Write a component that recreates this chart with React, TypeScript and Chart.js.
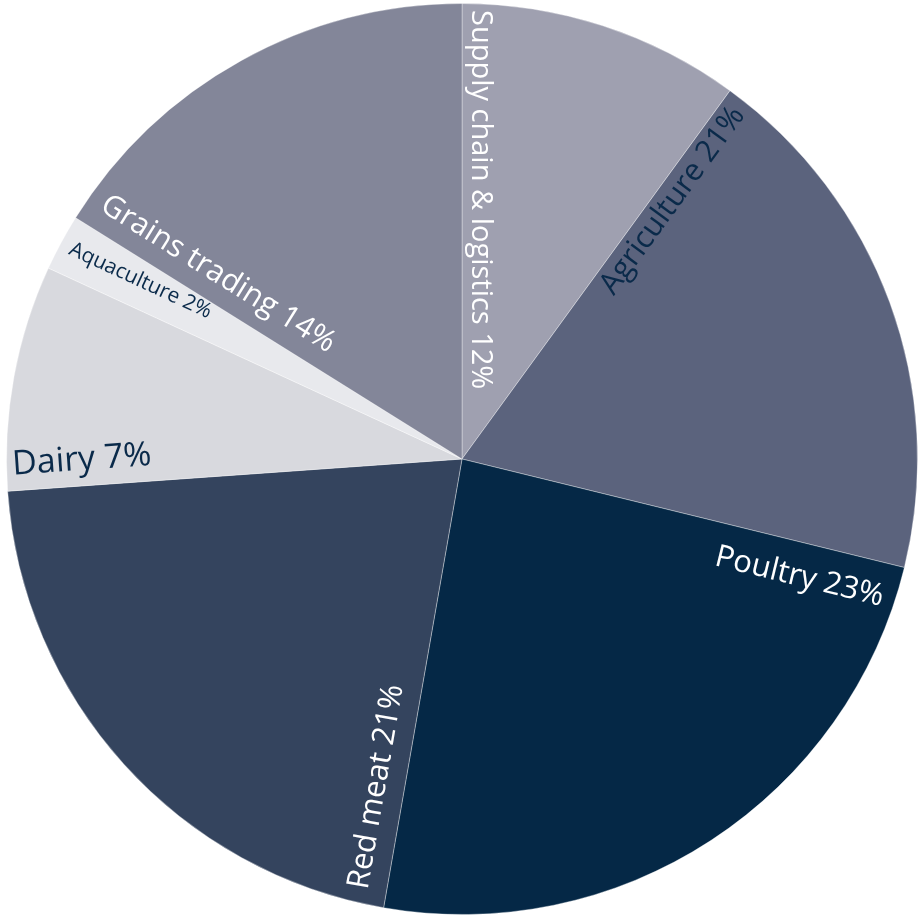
import React, { useEffect, useRef } from "react";
import { Chart, registerables } from "chart.js";

Chart.register(...registerables);

// ---- data ----
const categories = [
  "Supply chain & logistics",
  "Agriculture",
  "Poultry",
  "Red meat",
  "Dairy",
  "Aquaculture",
  "Grains trading",
];
// slice sizes as drawn (share of the full circle, %)
const sliceValues = [10.0, 18.8, 23.9, 21.1, 8.0, 2.0, 16.1];
// percentages printed in the labels
const labelPercents = ["12%", "21%", "23%", "21%", "7%", "2%", "14%"];

// ---- styles ----
const sliceColors = [
  "#9fa0b0",
  "#5b637d",
  "#052846",
  "#34445e",
  "#d8d9de",
  "#e8e9ed",
  "#838699",
];
const NAVY = "#0a2a4a";
const labelColors = ["#ffffff", NAVY, "#ffffff", "#ffffff", NAVY, NAVY, "#ffffff"];
const labelFontSizes = [29, 30.5, 31, 31, 34, 21, 30.5];
// "in" = text reads toward the centre, "out" = text reads toward the rim
const labelDirections = ["in", "out", "out", "in", "in", "in", "in"];
// distance (px) of the outer end of the text from the centre
const labelOuterRadii = [449, 445, 442, 441, 449, 444, 440];
// distance (px) of the baseline from the slice's starting edge
const labelBaselineOffsets = [10, 27, 43, 19, 16, 21, 19];

const FONT_FAMILY = '"Open Sans", "Noto Sans", sans-serif';

const edgeLabelPlugin = {
  id: "edgeLabels",
  afterDatasetsDraw(chart: any) {
    const ctx: CanvasRenderingContext2D = chart.ctx;
    const meta = chart.getDatasetMeta(0);
    meta.data.forEach((arc: any, i: number) => {
      const { x, y, startAngle } = arc.getProps(["x", "y", "startAngle"], true);
      const text = categories[i] + " " + labelPercents[i];
      ctx.save();
      ctx.font = `${labelFontSizes[i]}px ${FONT_FAMILY}`;
      ctx.fillStyle = labelColors[i];
      ctx.textBaseline = "alphabetic";
      ctx.translate(x, y);
      const r = labelOuterRadii[i];
      const d = labelBaselineOffsets[i];
      if (labelDirections[i] === "out") {
        ctx.rotate(startAngle);
        ctx.textAlign = "right";
        ctx.fillText(text, r, d);
      } else {
        ctx.rotate(startAngle + Math.PI);
        ctx.textAlign = "left";
        ctx.fillText(text, -r, -d);
      }
      ctx.restore();
    });
  },
};

export default function App() {
  const canvasRef = useRef<HTMLCanvasElement | null>(null);

  useEffect(() => {
    document.body.style.margin = "0";
    const canvas = canvasRef.current;
    if (!canvas) return;
    const chart = new Chart(canvas, {
      type: "pie",
      data: {
        labels: categories,
        datasets: [
          {
            data: sliceValues,
            backgroundColor: sliceColors,
            borderColor: "rgba(255,255,255,0.35)",
            borderWidth: 1,
            hoverOffset: 0,
          },
        ],
      },
      options: {
        responsive: false,
        animation: false,
        devicePixelRatio: 1,
        layout: { padding: { left: 6, right: 4, top: 3, bottom: 1 } },
        plugins: {
          legend: { display: false },
          tooltip: { enabled: false },
        },
      },
      plugins: [edgeLabelPlugin],
    });
    return () => chart.destroy();
  }, []);

  return (
    <div style={{ position: "absolute", left: 0, top: 0, width: 922, height: 916, background: "#ffffff" }}>
      <canvas ref={canvasRef} width={922} height={916} style={{ display: "block", width: 922, height: 916 }} />
    </div>
  );
}
